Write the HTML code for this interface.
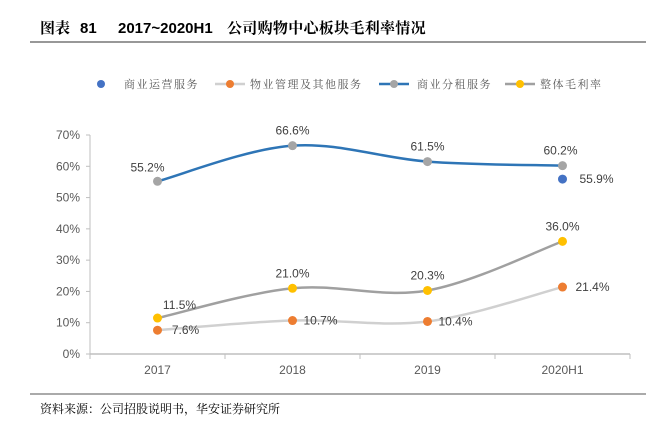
<!DOCTYPE html>
<html><head><meta charset="utf-8"><style>
body{margin:0;background:#fff;width:646px;height:421px;overflow:hidden;font-family:"Liberation Sans","Noto Sans CJK SC",sans-serif;}
</style></head><body>
<svg width="646" height="421" xmlns="http://www.w3.org/2000/svg">
<g font-size="15" font-weight="bold" fill="#000">
<text x="40" y="33" font-family="Noto Serif CJK SC,serif">图表</text>
<text x="80" y="33" font-family="Liberation Sans,sans-serif">81</text>
<text x="118" y="33" font-family="Liberation Sans,sans-serif">2017~2020H1</text>
<text x="227" y="33" font-family="Noto Serif CJK SC,serif" letter-spacing="0.3">公司购物中心板块毛利率情况</text>
</g>
<line x1="30" y1="42" x2="646" y2="42" stroke="#777" stroke-width="1.5"/>
<g id="legend" font-size="11" fill="#555"></g>
<g id="axes"></g>
<g id="plot"></g>
<line x1="30" y1="394" x2="646" y2="394" stroke="#777" stroke-width="1.2"/>
<text x="40" y="413" font-size="12" fill="#000" font-family="Noto Serif CJK SC,serif">资料来源：公司招股说明书，华安证券研究所</text>
</svg>
<script>
const categories=["2017","2018","2019","2020H1"];
const yTicks=[0,10,20,30,40,50,60,70];
const opsService=[null,null,null,55.9];
const propertyMgmt=[7.6,10.7,10.4,21.4];
const subletService=[55.2,66.6,61.5,60.2];
const overallMargin=[11.5,21.0,20.3,36.0];
const legendNames=["商业运营服务","物业管理及其他服务","商业分租服务","整体毛利率"];

const NS="http://www.w3.org/2000/svg";
const x0=90,x1=630,y0=354,yTop=135;
const band=(x1-x0)/categories.length;
const X=i=>x0+band*(i+0.5);
const Y=v=>y0-(v/70)*(y0-yTop);
function mk(tag,attrs,parent){const e=document.createElementNS(NS,tag);for(const k in attrs)e.setAttribute(k,attrs[k]);parent.appendChild(e);return e;}
const axes=document.getElementById('axes'),plot=document.getElementById('plot'),leg=document.getElementById('legend');

yTicks.forEach(t=>{
  const tx=mk('text',{x:x0-10,y:Y(t)+4,'text-anchor':'end','font-size':12,fill:'#595959'},axes);
  tx.textContent=t+'%';
  
  
  mk('line',{x1:x0-4,x2:x0,y1:Y(t),y2:Y(t),stroke:'#bfbfbf'},axes);
});
const ya=mk('line',{x1:x0,x2:x0,y1:yTop,y2:y0,stroke:'#bfbfbf'},axes);


const xa=mk('line',{x1:x0,x2:x1,y1:y0,y2:y0,stroke:'#bfbfbf','stroke-width':1.5},axes);


for(let i=0;i<=categories.length;i++)mk('line',{x1:x0+band*i,x2:x0+band*i,y1:y0,y2:y0+5,stroke:'#bfbfbf'},axes);
categories.forEach((c,i)=>{
  const t=mk('text',{x:X(i),y:y0+20,'text-anchor':'middle','font-size':12,fill:'#595959'},axes);
  t.textContent=c;
  
  
});

function smooth(vals){
  const p=vals.map((v,i)=>[X(i),Y(v)]);
  let d=`M${p[0][0]},${p[0][1]}`;
  for(let i=0;i<p.length-1;i++){
    const a=p[i-1]||p[i],b=p[i],c=p[i+1],e=p[i+2]||c,k=0.17;
    d+=` C${b[0]+(c[0]-a[0])*k},${b[1]+(c[1]-a[1])*k} ${c[0]-(e[0]-b[0])*k},${c[1]-(e[1]-b[1])*k} ${c[0]},${c[1]}`;
  }
  return d;
}
function series(vals,line,marker,name,labelOff){
  if(line){const p=mk('path',{d:smooth(vals),fill:'none',stroke:line,'stroke-width':2.5},plot);
    
    }
  vals.forEach((v,i)=>{
    if(v==null)return;
    const c=mk('circle',{cx:X(i),cy:Y(v),r:4.5,fill:marker},plot);
    
    
    const o=labelOff[i];
    const t=mk('text',{x:X(i)+o[0],y:Y(v)+o[1],'text-anchor':'middle','font-size':12,fill:'#404040'},plot);
    t.textContent=v.toFixed(1)+'%';
    
    
  });
}
series(propertyMgmt,'#d0d0d0','#ed7d31','property-mgmt',[[28,4],[28,4],[28,4],[30,4]]);
series(overallMargin,'#a0a0a0','#ffc000','overall-margin',[[22,-9],[0,-11],[0,-11],[0,-11]]);
series(subletService,'#2e75b6','#a5a5a5','sublet-service',[[-10,-10],[0,-11],[0,-11],[-2,-11]]);
series(opsService,null,'#4472c4','ops-service',[[34,4],[0,0],[0,0],[34,4]]);

const legItems=[[101,null,'#4472c4',124],[230,'#d0d0d0','#ed7d31',250],[394,'#2e75b6','#a5a5a5',417],[520,'#a0a0a0','#ffc000',540]];
legItems.forEach((it,i)=>{
  const [lx,lc,mc,tx]=it;const ly=84;
  if(lc)mk('line',{x1:lx-15,x2:lx+15,y1:ly,y2:ly,stroke:lc,'stroke-width':2.5},leg);
  mk('circle',{cx:lx,cy:ly,r:4,fill:mc},leg);
  const t=mk('text',{x:tx,y:ly+4,'font-size':11,fill:'#595959','letter-spacing':'1.5','font-family':'Noto Serif CJK SC,serif'},leg);
  t.textContent=legendNames[i];
  
  
});
</script>
</body></html>
